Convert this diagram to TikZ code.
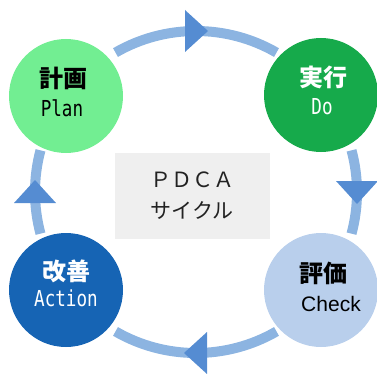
\documentclass[tikz,border=0pt]{standalone}
\usepackage{fontspec}
\newfontfamily\jpfont{Noto Sans CJK JP}
\newfontfamily\monofont[FakeStretch=0.8]{DejaVu Sans Mono}
\newfontfamily\checkfont{Liberation Sans}
\definecolor{planc}{HTML}{72EE92}
\definecolor{doc}{HTML}{16AA4B}
\definecolor{actc}{HTML}{1664B4}
\definecolor{checkc}{HTML}{B9CFEC}
\definecolor{ringc}{HTML}{8CB4E1}
\definecolor{tipc}{HTML}{558CD2}
\definecolor{boxc}{HTML}{EFEFEF}
\definecolor{boxtext}{HTML}{222222}

\begin{document}
\begin{tikzpicture}[x=1pt,y=1pt,
	phase/.style={circle,minimum size=114pt,inner sep=0pt},
	kanji/.style={inner sep=0pt,font=\jpfont\bfseries\fontsize{24}{28}\selectfont},
	latin/.style={inner sep=0pt,font=\monofont\fontsize{22}{26}\selectfont},
	ringline/.style={draw=ringc,line width=10pt},
	tipfill/.style={fill=tipc}]
	\useasboundingbox (0,0) rectangle (377,373);
	\coordinate (c) at (196,181);
	\draw [ringline] (c) ++(60:161) arc[start angle=60,end angle=120,radius=161pt];
	\draw [ringline] (c) ++(-15:161) arc[start angle=-15,end angle=15,radius=161pt];
	\draw [ringline] (c) ++(-120:161) arc[start angle=-120,end angle=-60,radius=161pt];
	\draw [ringline] (c) ++(165:161) arc[start angle=165,end angle=195,radius=161pt];
	\fill [tipfill,shift={(c)}] (-11,140) -- (12,161) -- (-11,182) -- cycle;
	\fill [tipfill,shift={(c)}] (140,11) -- (161,-12) -- (182,11) -- cycle;
	\fill [tipfill,shift={(c)}] (11,-182) -- (-12,-161) -- (11,-140) -- cycle;
	\fill [tipfill,shift={(c)}] (-182,-11) -- (-161,12) -- (-140,-11) -- cycle;
	\node [fill=boxc,minimum width=155pt,minimum height=86pt,align=center,text=boxtext,
		font=\jpfont\fontsize{21}{31}\selectfont] (box) at (192,177) {ＰＤＣＡ\\サイクル};
	\node [phase,fill=planc] (plan) at (66,277) {};
	\node [kanji] at ([xshift=-3pt,yshift=18pt]plan.center) {計画};
	\node [latin] at ([xshift=-4pt,yshift=-12pt]plan.center) {Plan};
	\node [phase,fill=doc] (do) at (321,278) {};
	\node [kanji,text=white] at ([xshift=2pt,yshift=18pt]do.center) {実行};
	\node [latin,text=white] at ([xshift=1pt,yshift=-12pt]do.center) {Do};
	\node [phase,fill=checkc] (check) at (321,83) {};
	\node [kanji] at ([xshift=2pt,yshift=17pt]check.center) {評価};
	\node [inner sep=0pt,font=\checkfont\fontsize{21}{25}\selectfont] at ([xshift=10pt,yshift=-14pt]check.center) {Check};
	\node [phase,fill=actc] (act) at (66,83) {};
	\node [kanji,text=white] at ([yshift=19pt]act.center) {改善};
	\node [latin,text=white] at ([yshift=-8pt]act.center) {Action};
\end{tikzpicture}
\end{document}
